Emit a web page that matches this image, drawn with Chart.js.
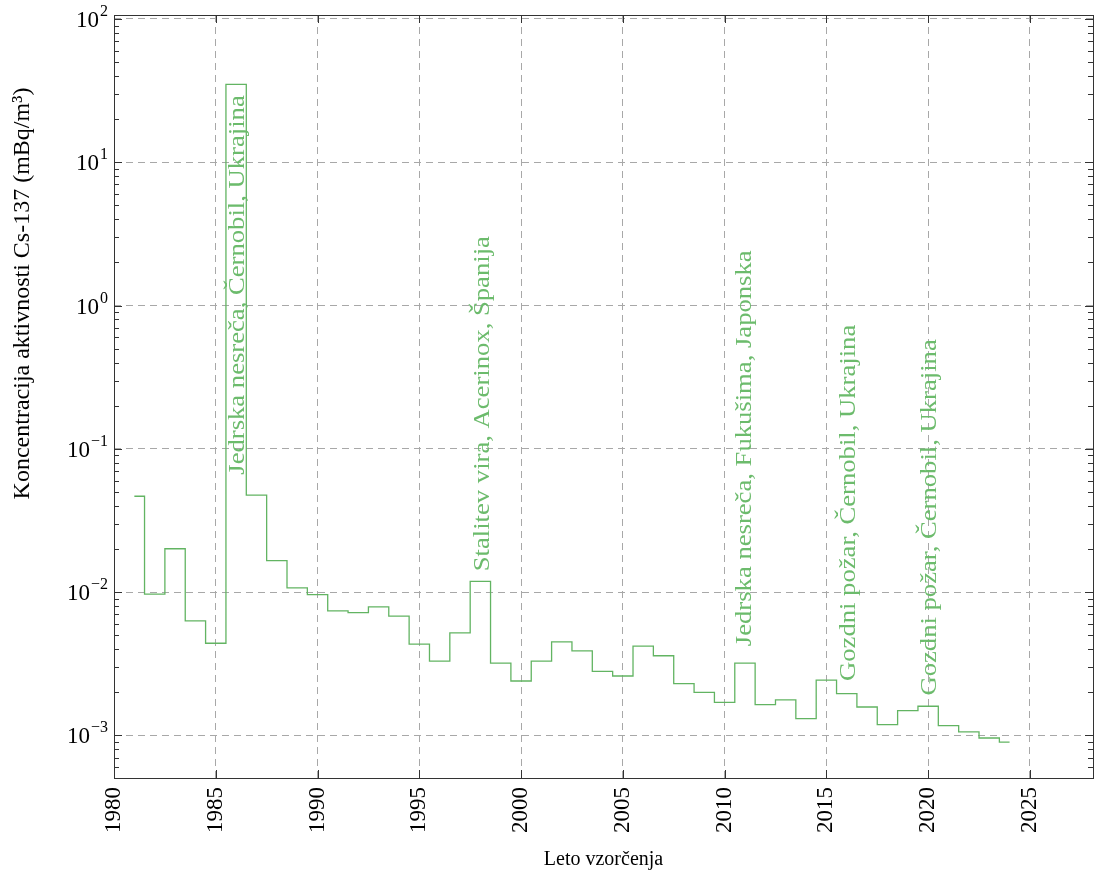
<!DOCTYPE html>
<html>
<head>
<meta charset="utf-8">
<script src="https://cdn.jsdelivr.net/npm/chart.js@4.4.0/dist/chart.umd.min.js"></script>
<style>
  html, body { margin: 0; padding: 0; background: #fff; }
  #wrap { width: 1094px; height: 875px; }
</style>
</head>
<body>
<div id="wrap"><canvas id="chart" width="1094" height="875"></canvas></div>
<script>
// yearly Cs-137 activity concentration (mBq/m3)
var years = [1981, 1982, 1983, 1984, 1985, 1986, 1987, 1988, 1989, 1990,
             1991, 1992, 1993, 1994, 1995, 1996, 1997, 1998, 1999, 2000,
             2001, 2002, 2003, 2004, 2005, 2006, 2007, 2008, 2009, 2010,
             2011, 2012, 2013, 2014, 2015, 2016, 2017, 2018, 2019, 2020,
             2021, 2022, 2023, 2024];
var cs137 = [0.0467, 0.0097, 0.0201, 0.0063, 0.0044, 35, 0.0475, 0.0166, 0.0107, 0.0096,
             0.0074, 0.0072, 0.0079, 0.0068, 0.00434, 0.0033, 0.0052, 0.0119, 0.0032, 0.0024,
             0.0033, 0.0045, 0.0039, 0.0028, 0.0026, 0.0042, 0.0036, 0.0023, 0.0020, 0.0017,
             0.0032, 0.00164, 0.00177, 0.00131, 0.00243, 0.00196, 0.00158, 0.00119, 0.00149, 0.0016,
             0.00117, 0.00106, 0.00096, 0.0009];

var xTicks = [1980, 1985, 1990, 1995, 2000, 2005, 2010, 2015, 2020, 2025];
var yTicks = [1e-3, 1e-2, 1e-1, 1, 10, 100];

// event labels (x = year, y = level where the text starts)
var eventYears = [1986.1, 1998.1, 2011.0, 2016.1, 2020.1];
var eventLevels = [0.066, 0.014, 0.0042, 0.0024, 0.0019];
var eventLabels = [
    'Jedrska nesreča, Černobil, Ukrajina',
    'Stalitev vira, Acerinox, Španija',
    'Jedrska nesreča, Fukušima, Japonska',
    'Gozdni požar, Černobil, Ukrajina',
    'Gozdni požar, Černobil, Ukrajina'
];

var FONT = '"Liberation Serif", "DejaVu Serif", serif';
var GREEN = '#62b462';

var points = years.map(function(y, i) { return {x: y, y: cs137[i]}; });

var framePlugin = {
    id: 'frame',
    afterDatasetsDraw: function(chart) {
        var ctx = chart.ctx, x = chart.scales.x, y = chart.scales.y;
        ctx.save();
        ctx.fillStyle = '#6cbb6c';
        ctx.font = '24px ' + FONT;
        ctx.textAlign = 'left';
        ctx.textBaseline = 'middle';
        for (var i = 0; i < eventLabels.length; i++) {
            ctx.save();
            ctx.translate(x.getPixelForValue(eventYears[i]), y.getPixelForValue(eventLevels[i]));
            ctx.rotate(-Math.PI / 2);
            ctx.scale(1.11, 1);   // Computer Modern runs wider than Liberation
            ctx.fillText(eventLabels[i], 0, 0);
            ctx.restore();
        }
        ctx.restore();
    },
    afterDraw: function(chart) {
        var ctx = chart.ctx, a = chart.chartArea, x = chart.scales.x, y = chart.scales.y;
        ctx.save();
        ctx.strokeStyle = '#333';
        ctx.lineWidth = 1;
        ctx.beginPath();
        // y ticks, major + minor, both sides, inside
        for (var k = -4; k <= 2; k++) {
            for (var m = 1; m <= 9; m++) {
                var v = m * Math.pow(10, k);
                if (v < y.min || v > y.max) continue;
                var py = Math.round(y.getPixelForValue(v)) + 0.5;
                var len = m === 1 ? 8 : 5;
                ctx.moveTo(a.left, py); ctx.lineTo(a.left + len, py);
                ctx.moveTo(a.right, py); ctx.lineTo(a.right - len, py);
            }
        }
        // x ticks, bottom and top
        xTicks.forEach(function(t) {
            var px = Math.round(x.getPixelForValue(t)) + 0.5;
            ctx.moveTo(px, a.bottom); ctx.lineTo(px, a.bottom - 8);
            ctx.moveTo(px, a.top); ctx.lineTo(px, a.top + 8);
        });
        ctx.stroke();
        ctx.strokeRect(Math.round(a.left) + 0.5, Math.round(a.top) + 0.5,
                       Math.round(a.right - a.left), Math.round(a.bottom - a.top));

        // y tick labels 10^n
        ctx.fillStyle = '#000';
        ctx.textBaseline = 'alphabetic';
        ctx.textAlign = 'left';
        y.ticks.forEach(function(t) {
            var e = Math.round(Math.log10(t.value));
            var sup = (e < 0 ? '\u2212' : '') + Math.abs(e);
            var py = y.getPixelForValue(t.value);
            ctx.font = '16px ' + FONT;
            var sw = ctx.measureText(sup).width;
            ctx.font = '23px ' + FONT;
            var bw = ctx.measureText('10').width;
            var right = a.left - 6;
            ctx.fillText('10', right - sw - bw - 1, py + 8);
            ctx.font = '16px ' + FONT;
            ctx.fillText(sup, right - sw, py - 3);
        });

        // y axis title
        ctx.save();
        ctx.font = '24px ' + FONT;
        ctx.textAlign = 'center';
        ctx.textBaseline = 'middle';
        ctx.translate(23, a.top + (a.bottom - a.top) * 0.365);
        ctx.rotate(-Math.PI / 2);
        ctx.fillText('Koncentracija aktivnosti Cs-137 (mBq/m\u00b3)', 0, 0);
        ctx.restore();
        ctx.restore();
    }
};

var chart = new Chart(document.getElementById('chart'), {
    type: 'line',
    data: {
        datasets: [{
            data: points,
            stepped: 'middle',
            borderColor: GREEN,
            borderWidth: 1.3,
            pointRadius: 0,
            fill: false
        }]
    },
    options: {
        responsive: false,
        devicePixelRatio: 1,
        animation: false,
        layout: { padding: { top: 15, right: 1, left: 0, bottom: 0 } },
        plugins: { legend: { display: false }, tooltip: { enabled: false } },
        scales: {
            x: {
                type: 'linear',
                min: 1980,
                max: 2028.1,
                afterBuildTicks: function(s) { s.ticks = xTicks.map(function(v) { return {value: v}; }); },
                afterFit: function(s) { s.height = 97; },
                grid: { color: '#a8a8a8', lineWidth: 1, drawTicks: false },
                border: { display: false, dash: [7, 5] },
                ticks: {
                    minRotation: 90, maxRotation: 90, padding: 9, color: '#000',
                    font: { family: FONT, size: 23 },
                    callback: function(v) { return String(v); }
                },
                title: {
                    display: true, text: 'Leto vzorčenja', color: '#000',
                    font: { family: FONT, size: 20 },
                    padding: { top: 0, bottom: 3 }
                }
            },
            y: {
                type: 'logarithmic',
                min: 5.05e-4,
                max: 106.6,
                afterBuildTicks: function(s) { s.ticks = yTicks.map(function(v) { return {value: v}; }); },
                afterFit: function(s) { s.width = 114; },
                grid: { color: '#a8a8a8', lineWidth: 1, drawTicks: false },
                border: { display: false, dash: [7, 5] },
                ticks: { display: false }
            }
        }
    },
    plugins: [framePlugin]
});
</script>
</body>
</html>
